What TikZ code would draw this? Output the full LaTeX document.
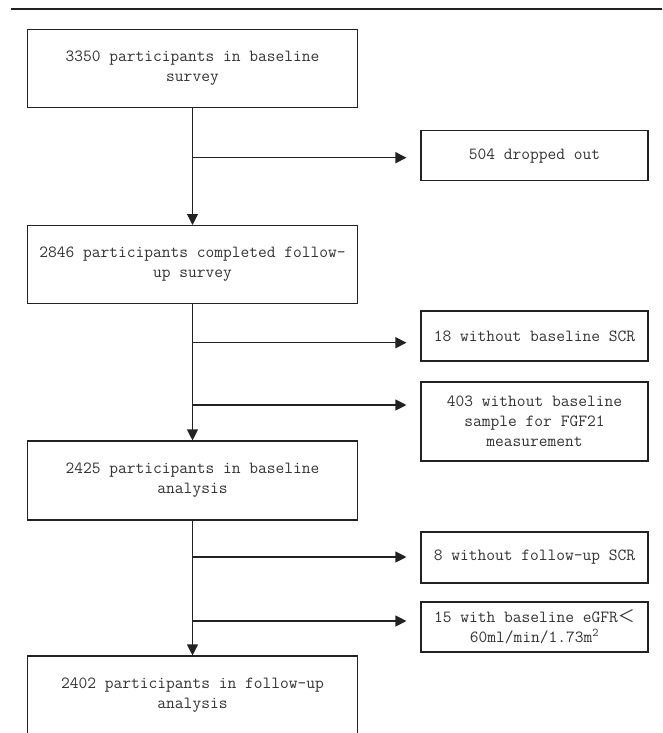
\documentclass[tikz,border=0pt]{standalone}
\usepackage{fontspec}
\newfontfamily\cjkFont{Noto Sans CJK SC}
\usetikzlibrary{arrows.meta}
\usetikzlibrary{calc}
\definecolor{myLine}{HTML}{222222}
\definecolor{myText}{HTML}{333333}

\begin{document}
\begin{tikzpicture}[x=1pt,y=-1pt,
    boxMain/.style={draw=myLine, line width=1.1pt, minimum width=329.6pt, inner sep=0pt,
      align=center, text=myText, font=\ttfamily\fontsize{17}{20}\selectfont},
    boxSide/.style={boxMain, minimum width=227pt},
    arrowMain/.style={draw=myLine, line width=1.1pt, -{Triangle[length=11pt,width=11pt]}}]
        \useasboundingbox (0,0) rectangle (662,733);
        \draw[myLine, line width=2.4pt] (11,9) -- (662,9);
        % left column
        \node[boxMain, minimum height=78.4pt] (base) at (192.5,68.5) {3350 participants in baseline\\survey};
        \node[boxMain, minimum height=77.5pt] (follow) at (192.5,264.3) {2846 participants completed follow-\\up survey};
        \node[boxMain, minimum height=79pt] (baseAna) at (192.5,480.5) {2425 participants in baseline\\analysis};
        \node[boxMain, minimum height=78pt] (fuAna) at (192.5,695) {2402 participants in follow-up\\analysis};
        % exclusions
        \node[boxSide, minimum height=50pt] (drop) at (534.5,155.7) {504 dropped out};
        \node[boxSide, minimum height=50pt] (noScr) at (534.5,336) {18 without baseline SCR};
        \node[boxSide, minimum height=79pt] (noFgf) at (534.5,421.5) {403 without baseline\\sample for FGF21\\measurement};
        \node[boxSide, minimum height=51pt] (noFuScr) at (534.5,557.5) {8 without follow-up SCR};
        \node[boxSide, minimum height=50pt] (lowEgfr) at (534.5,627) {15 with baseline eGFR{\cjkFont ＜}\\60ml/min/1.73m\textsuperscript{2}};
        % junctions on the main line
        \coordinate (jDrop) at (192.5,157.7);
        \coordinate (jScr) at (192.5,342.7);
        \coordinate (jFgf) at (192.5,405);
        \coordinate (jFuScr) at (192.5,557);
        \coordinate (jEgfr) at (192.5,621);
        \draw[arrowMain] (base) -- (follow);
        \draw[arrowMain] (follow) -- (baseAna);
        \draw[arrowMain] (baseAna) -- (fuAna);
        \draw[arrowMain] (jDrop) -- ([xshift=-14pt]drop.west |- jDrop);
        \draw[arrowMain] (jScr) -- ([xshift=-14pt]noScr.west |- jScr);
        \draw[arrowMain] (jFgf) -- ([xshift=-14pt]noFgf.west |- jFgf);
        \draw[arrowMain] (jFuScr) -- ([xshift=-14pt]noFuScr.west |- jFuScr);
        \draw[arrowMain] (jEgfr) -- ([xshift=-14pt]lowEgfr.west |- jEgfr);
      \end{tikzpicture}
\end{document}
